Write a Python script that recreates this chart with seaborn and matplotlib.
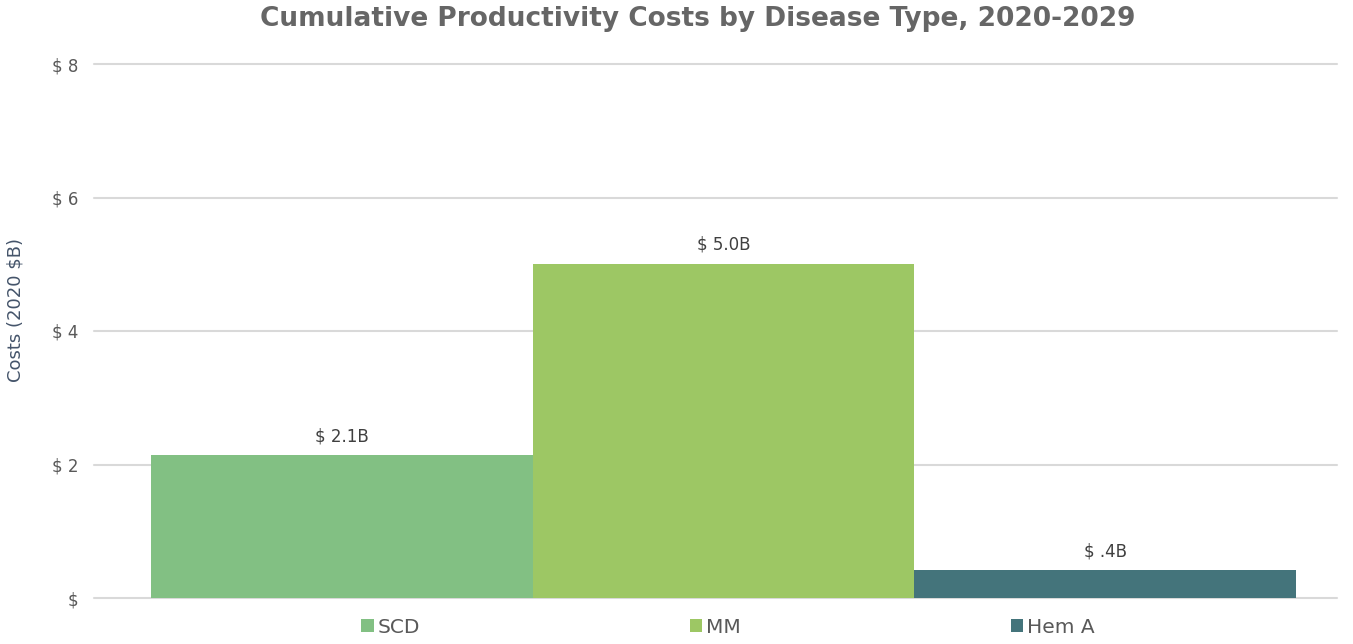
import matplotlib
matplotlib.use("Agg")
import matplotlib.pyplot as plt
import seaborn as sns
import pandas as pd

categories = ["SCD", "MM", "Hem A"]
values = [2.14, 5.01, 0.42]
bar_labels = ["$ 2.1B", "$ 5.0B", "$ .4B"]
colors = ["#82C083", "#9DC764", "#44747B"]
yticks = [0, 2, 4, 6, 8]
ytick_labels = ["$", "$ 2", "$ 4", "$ 6", "$ 8"]

sns.set_theme(style="white")
plt.rcParams["font.family"] = ["DejaVu Sans"]

df = pd.DataFrame({"Disease": categories, "Cost": values})

fig = plt.figure(figsize=(13.53, 6.44), dpi=100)
ax = fig.add_axes([94/1353, 1-598/644, (1337-94)/1353, (598-64)/644])

sns.barplot(data=df, x="Disease", y="Cost", hue="Disease", palette=colors,
            width=1.0, ax=ax, legend=True, saturation=1, edgecolor="none")

ax.set_xlim(-0.649, 2.607)
ax.set_ylim(0, 8)
ax.set_yticks(yticks)
ax.set_yticklabels(ytick_labels, color="#595959", fontsize=12)
ax.tick_params(axis="y", length=0, pad=11)
ax.set_xticks([])
ax.set_xlabel("")
ax.set_ylabel("Costs (2020 $B)", color="#44546A", fontsize=13)
ax.yaxis.set_label_coords(-0.056, 0.539)
ax.yaxis.grid(True, color="#D9D9D9", linewidth=1.5)
for gl in ax.get_ygridlines():
    gl.set_clip_on(False)
ax.set_axisbelow(True)
for s in ax.spines.values():
    s.set_visible(False)

for i, (v, lab) in enumerate(zip(values, bar_labels)):
    ax.annotate(lab, xy=(i, v), xytext=(0, 7), textcoords="offset points",
                ha="center", va="bottom", fontsize=12, color="#404040")

sns.move_legend(ax, "center", bbox_to_anchor=(0.510, -0.055),
                bbox_transform=ax.transAxes,
                ncol=3, frameon=False, title=None, fontsize=14.5,
                handlelength=0.6, handleheight=0.6, handletextpad=0.2,
                columnspacing=13.4)
leg = ax.get_legend()
for t in leg.get_texts():
    t.set_color("#595959")

fig.text(0.5154, 0.970, "Cumulative Productivity Costs by Disease Type, 2020-2029",
         ha="center", va="center", fontsize=19, fontweight="bold", color="#666666")

fig.savefig("out.png", dpi=100, facecolor="white")
